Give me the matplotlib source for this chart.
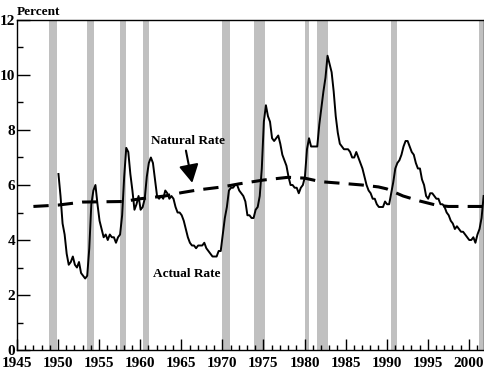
import numpy as np
import matplotlib
matplotlib.use('Agg')
import matplotlib.pyplot as plt
from matplotlib.ticker import MultipleLocator

# recession periods (start, end)
rec_start = [1948.9, 1953.55, 1957.6, 1960.3, 1969.9, 1973.9, 1980.0, 1981.55, 1990.55, 2001.2]
rec_end = [1949.85, 1954.4, 1958.3, 1961.1, 1970.9, 1975.2, 1980.5, 1982.9, 1991.2, 2001.9]

# natural rate
nat_years = [1947, 1950, 1953, 1958, 1960, 1963, 1965, 1967, 1970, 1972, 1975, 1978,
             1980, 1982, 1985, 1987, 1989, 1990, 1992, 1994, 1996, 1997.5, 2001.8]
nat_rate = [5.22, 5.27, 5.38, 5.4, 5.5, 5.6, 5.72, 5.82, 5.93, 6.04, 6.18, 6.28,
            6.25, 6.12, 6.05, 6.0, 5.93, 5.86, 5.6, 5.42, 5.27, 5.22, 5.22]

# actual unemployment rate, quarterly 1950-2001
act_rate = [6.4, 5.6, 4.6, 4.2,  3.5, 3.1, 3.2, 3.4,  3.1, 3.0, 3.2, 2.8,
            2.7, 2.6, 2.7, 3.7,  5.3, 5.8, 6.0, 5.3,  4.7, 4.4, 4.1, 4.2,
            4.0, 4.2, 4.1, 4.1,  3.9, 4.1, 4.2, 4.9,  6.3, 7.35, 7.2, 6.4,
            5.8, 5.1, 5.3, 5.6,  5.1, 5.2, 5.5, 6.3,  6.8, 7.0, 6.8, 6.2,
            5.6, 5.5, 5.6, 5.5,  5.8, 5.7, 5.5, 5.6,  5.5, 5.2, 5.0, 5.0,
            4.9, 4.7, 4.4, 4.1,  3.9, 3.8, 3.8, 3.7,  3.8, 3.8, 3.8, 3.9,
            3.7, 3.6, 3.5, 3.4,  3.4, 3.4, 3.6, 3.6,  4.2, 4.8, 5.2, 5.8,
            5.9, 5.9, 6.0, 6.0,  5.8, 5.7, 5.6, 5.4,  4.9, 4.9, 4.8, 4.8,
            5.1, 5.2, 5.6, 6.6,  8.3, 8.9, 8.5, 8.3,  7.7, 7.6, 7.7, 7.8,
            7.5, 7.1, 6.9, 6.7,  6.3, 6.0, 6.0, 5.9,  5.9, 5.7, 5.9, 6.0,
            6.3, 7.3, 7.7, 7.4,  7.4, 7.4, 7.4, 8.2,  8.8, 9.4, 9.9, 10.7,
            10.4, 10.1, 9.4, 8.5,  7.9, 7.5, 7.4, 7.3,  7.3, 7.3, 7.2, 7.0,
            7.0, 7.2, 7.0, 6.8,  6.6, 6.3, 6.0, 5.8,  5.7, 5.5, 5.5, 5.3,
            5.2, 5.2, 5.2, 5.4,  5.3, 5.3, 5.7, 6.1,  6.6, 6.8, 6.9, 7.1,
            7.4, 7.6, 7.6, 7.4,  7.2, 7.1, 6.8, 6.6,  6.6, 6.2, 6.0, 5.6,
            5.5, 5.7, 5.7, 5.6,  5.5, 5.5, 5.3, 5.3,  5.2, 5.0, 4.9, 4.7,
            4.6, 4.4, 4.5, 4.4,  4.3, 4.3, 4.2, 4.1,  4.0, 4.0, 4.1, 3.9,
            4.2, 4.4, 4.8, 5.6]
act_years = 1950.05 + 0.25 * np.arange(len(act_rate))

plt.rcParams['font.family'] = 'Liberation Serif'
plt.rcParams['font.weight'] = 'bold'

fig = plt.figure(figsize=(4.85, 3.70), dpi=100)
ax = fig.add_axes([0.035, 0.054, 0.963, 0.892])

# shaded recessions
for s, e in zip(rec_start, rec_end):
    ax.axvspan(s, e, color='#c0c0c0', lw=0, zorder=0)

ax.plot(nat_years, nat_rate, color='black', lw=2.2, dashes=(5, 3), zorder=2)
ax.plot(act_years, act_rate, color='black', lw=1.4, zorder=3)

# labels
ax.text(1965.8, 7.6, 'Natural Rate', ha='center', va='center', fontsize=9.5, fontweight='bold')
ax.text(1965.7, 2.75, 'Actual Rate', ha='center', va='center', fontsize=9.5, fontweight='bold')
ax.annotate('', xy=(1966.4, 5.98), xytext=(1965.5, 7.35),
            arrowprops=dict(arrowstyle='-|>,head_length=1.1,head_width=0.6', color='black', lw=1.5))
ax.text(0.0, 1.005, 'Percent', transform=ax.transAxes, ha='left', va='bottom',
        fontsize=9.5, fontweight='bold')

ax.set_xlim(1945, 2001.85)
ax.set_ylim(0, 12)
ax.xaxis.set_major_locator(MultipleLocator(5))
ax.xaxis.set_minor_locator(MultipleLocator(1))
ax.yaxis.set_major_locator(MultipleLocator(2))
ax.yaxis.set_minor_locator(MultipleLocator(1))
ax.tick_params(axis='x', which='major', direction='in', length=8, width=1, labelsize=11, pad=4.8)
ax.tick_params(axis='x', which='minor', direction='in', length=3.8, width=1)
ax.tick_params(axis='y', which='major', direction='in', length=9.5, width=1, labelsize=11, pad=1.5)
ax.tick_params(axis='y', which='minor', direction='in', length=4.5, width=1)
for sp in ax.spines.values():
    sp.set_linewidth(1)

fig.savefig('out.png', dpi=100)
